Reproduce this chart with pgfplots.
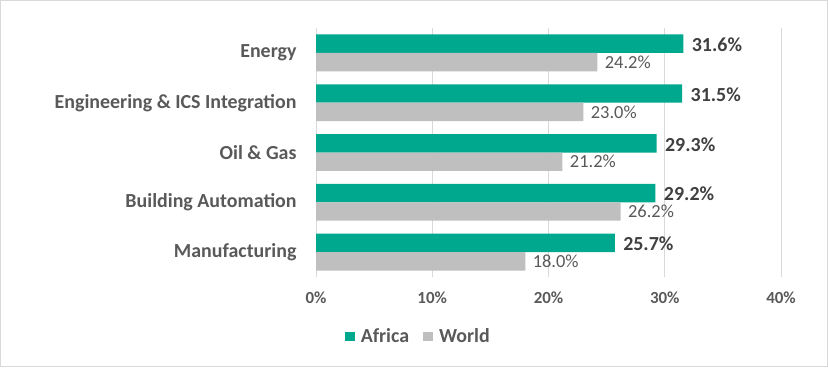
\documentclass[border=0pt]{standalone}
\usepackage{pgfplots}
\pgfplotsset{compat=1.18}
\usepackage{fontspec}
\setmainfont{Carlito}
\definecolor{teal1}{HTML}{00A88E}
\definecolor{gray1}{HTML}{BFBFBF}
\definecolor{txt}{HTML}{595959}
\definecolor{txtd}{HTML}{404040}
\definecolor{grid1}{HTML}{D9D9D9}
\begin{document}
\begin{tikzpicture}[x=1bp,y=1bp]
\path[use as bounding box] (0,0) rectangle (828,367);
\draw[grid1, line width=1bp] (0.5,0.5) rectangle (827.5,366.5);
\begin{axis}[
  at={(316bp,90bp)}, anchor=south west,
  scale only axis, width=465bp, height=249bp,
  xmin=0, xmax=40, ymin=-0.5, ymax=4.5,
  xbar, bar width=0.37,
  axis line style={draw=none},
  major tick length=0,
  xmajorgrids, grid style={grid1, line width=1bp},
  xtick={0,10,20,30,40},
  xticklabels={0\%,10\%,20\%,30\%,40\%},
  xticklabel style={font=\fontsize{17}{19}\selectfont\bfseries, text=txt, yshift=-11bp},
  ytick={0,1,2,3,4},
  yticklabels={Manufacturing,Building Automation,Oil \& Gas,Engineering \& ICS Integration,Energy},
  yticklabel style={font=\fontsize{20}{22}\selectfont\bfseries, text=txt, xshift=-16bp},
  legend columns=2,
  legend style={at={(0.22,-0.237)}, anchor=center, draw=none, fill=none,
    font=\fontsize{20}{22}\selectfont\bfseries, text=txt, inner sep=0pt,
    /tikz/every odd column/.append style={column sep=0bp},
    /tikz/every even column/.append style={column sep=12bp}},
  legend image code/.code={\fill[#1] (0bp,-4.5bp) rectangle (10bp,4.5bp); \path (14bp,0bp);},
  point meta=x,
]
\addplot[fill=teal1, draw=none, bar shift=0.185,
  nodes near coords={\pgfmathprintnumber[fixed,fixed zerofill,precision=1,assume math mode=true]{\pgfplotspointmeta}\%},
  nodes near coords style={font=\fontsize{20}{22}\selectfont\bfseries, text=txtd, anchor=west, xshift=5bp, yshift=-1bp}]
  coordinates {(25.7,0) (29.2,1) (29.3,2) (31.5,3) (31.6,4)};
\addplot[fill=gray1, draw=none, bar shift=-0.185,
  nodes near coords={\pgfmathprintnumber[fixed,fixed zerofill,precision=1,assume math mode=true]{\pgfplotspointmeta}\%},
  nodes near coords style={font=\fontsize{18.5}{20}\selectfont, text=txt, anchor=west, xshift=4bp}]
  coordinates {(18.0,0) (26.2,1) (21.2,2) (23.0,3) (24.2,4)};
\legend{Africa,World}
\end{axis}
\end{tikzpicture}
\end{document}
